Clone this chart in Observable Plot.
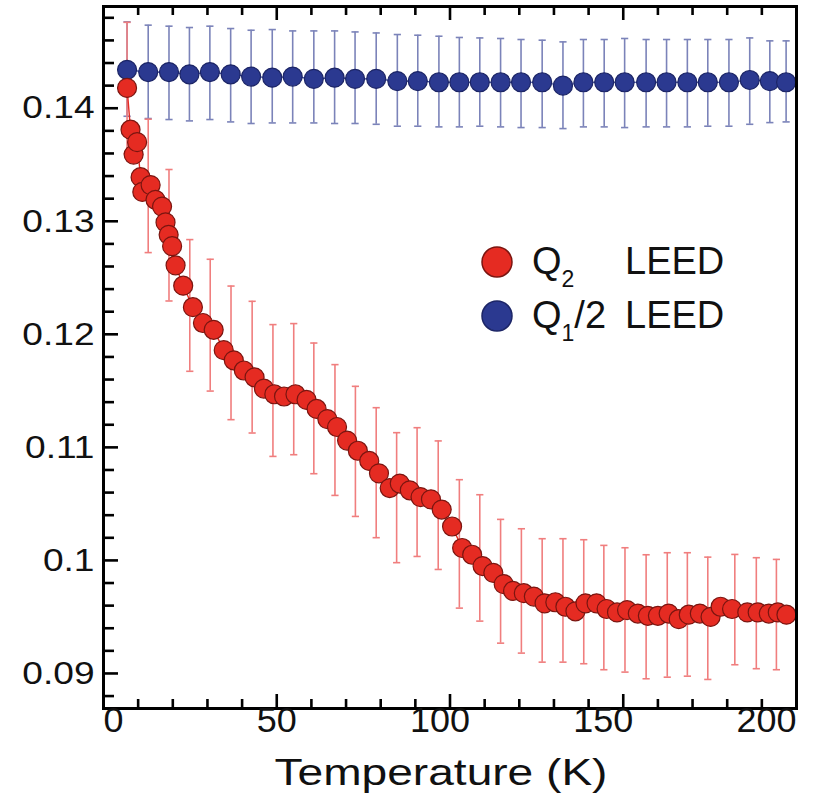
<!DOCTYPE html>
<html><head><meta charset="utf-8">
<script src="https://cdn.jsdelivr.net/npm/d3@7"></script>
<script src="https://cdn.jsdelivr.net/npm/@observablehq/plot@0.6"></script>
<style>
body{margin:0;background:#fff;}
#wrap{position:relative;width:840px;height:807px;}
#legend{position:absolute;left:0;top:0;pointer-events:none;}
</style></head><body><div id="wrap"></div>
<script>
// Q1/2 LEED (blue)
const blueT = [6.8,12.9,18.9,24.8,30.7,36.7,42.6,48.7,54.6,60.7,66.7,72.6,78.7,84.8,90.7,96.8,102.7,108.6,114.6,120.5,126.6,132.6,138.5,144.5,150.4,156.6,162.5,168.5,174.4,180.5,186.5,192.3,197.0];
const blueQ = [.1434,.1432,.1432,.1430,.1432,.1430,.1428,.1427,.1428,.1426,.1427,.1426,.1426,.1424,.1424,.1423,.1423,.1423,.1423,.1423,.1423,.1420,.1423,.1423,.1423,.1423,.1423,.1423,.1423,.1423,.1425,.1424,.1423];
const blueHi = [.14764,.14735,.14726,.14714,.14726,.14705,.14690,.14696,.14684,.14684,.14684,.14675,.14666,.14652,.14646,.14637,.14626,.14622,.14617,.14608,.14602,.14587,.14608,.14608,.14617,.14608,.14608,.14608,.14608,.14608,.14622,.14596,.14596];
const blueLo = [.13929,.13909,.13900,.13888,.13900,.13879,.13865,.13870,.13870,.13870,.13865,.13865,.13858,.13841,.13841,.13835,.13835,.13841,.13835,.13829,.13829,.13820,.13835,.13835,.13829,.13835,.13835,.13835,.13841,.13841,.13858,.13873,.13879];

// Q2 LEED (red)
const redT = [6.8,7.8,8.7,9.7,10.7,11.2,13.6,15.0,16.9,17.9,18.8,19.8,20.8,23.0,25.8,28.7,31.8,34.7,37.6,40.5,43.6,46.3,49.3,52.1,55.4,58.6,61.5,64.6,67.4,70.3,73.4,76.7,79.5,82.6,85.5,88.4,91.5,94.5,97.6,100.6,103.5,106.4,109.4,112.5,115.5,118.2,121.3,124.2,127.3,130.4,133.3,136.2,139.1,142.3,145.2,148.2,151.1,154.2,157.1,160.0,163.1,166.0,168.9,172.1,175.2,178.1,181.4,185.8,188.8,192.0,194.6,197.1];
const redQ = [.1418,.1381,.1359,.1370,.1339,.1326,.1332,.1319,.1313,.1299,.1288,.1278,.1261,.1243,.1224,.1210,.1204,.1186,.1177,.1168,.1162,.1152,.1147,.1145,.1147,.1142,.1134,.1125,.1118,.1106,.1097,.1088,.1077,.1064,.1068,.1062,.1056,.1054,.1045,.1030,.1011,.1005,.0995,.0989,.0979,.0973,.0971,.0968,.0962,.0963,.0959,.0955,.0962,.0962,.0957,.0954,.0956,.0953,.0951,.0951,.0953,.0948,.0952,.0953,.0950,.0959,.0957,.0954,.0954,.0953,.0954,.0952];
const redErrT = [6.8,12.9,18.9,24.9,30.8,36.8,42.9,48.9,54.9,60.7,66.8,72.7,78.7,84.6,90.5,96.6,102.7,108.6,114.6,120.6,126.6,132.6,138.6,144.4,150.5,156.6,162.7,168.5,174.4,182.2,188.4,194.2];
const redErrHi = [.1476,.13903,.13458,.12838,.12664,.12427,.12292,.12086,.12095,.11923,.11732,.11540,.11351,.11130,.11174,.11057,.10714,.10581,.10363,.10280,.10192,.10192,.10183,.10133,.10112,.10050,.10068,.10068,.10029,.10053,.10024,.10009];
const redErrLo = [.1360,.12723,.12295,.11673,.11498,.11245,.11127,.10920,.10935,.10767,.10575,.10389,.10201,.09980,.10035,.09920,.09578,.09463,.09268,.09180,.09100,.09100,.09086,.09033,.09012,.08953,.08967,.08976,.08947,.09077,.09042,.09033];

// axes
const xMajor = [0,50,100,150,200];
const xMinor = [0,10,20,30,40,60,70,80,90,110,120,130,140,160,170,180,190];
const yMajor = [0.09,0.10,0.11,0.12,0.13,0.14];
const yMajorLabels = ["0.09","0.1","0.11","0.12","0.13","0.14"];
const yMinor = [0.088,0.092,0.094,0.096,0.098,0.102,0.104,0.106,0.108,0.112,0.114,0.116,0.118,0.122,0.124,0.126,0.128,0.132,0.134,0.136,0.138,0.142,0.144,0.146,0.148];
const xLabel = "Temperature (K)";

const blue = blueT.map((t,i)=>({t, q: blueQ[i], lo: blueLo[i], hi: blueHi[i]}));
const red = redT.map((t,i)=>({t, q: redQ[i]}));
const redErr = redErrT.map((t,i)=>({t, lo: redErrLo[i], hi: redErrHi[i]}));

const W = 840, H = 807, mL = 103, mR = 44, mT = 6, mB = 99;
const iw = W - mL - mR, ih = H - mT - mB;

const cap = {draw(ctx, size){ const w = Math.sqrt(size/Math.PI); ctx.moveTo(-w,0); ctx.lineTo(w,0); }};

const RED = "#e52b22", REDS = "#7a1510", REDBAR = "#f07e7e";
const BLUE = "#2b3990", BLUES = "#1c2566", BLUEBAR = "#7b83b9";
const FONT = "'Liberation Sans', Arial, Helvetica, sans-serif";

const chart = Plot.plot({
  width: W, height: H,
  marginLeft: mL, marginRight: mR, marginTop: mT, marginBottom: mB,
  x: {domain: [0, 200]},
  y: {domain: [0.0869, 0.1490]},
  style: {fontFamily: FONT, fontSize: "32px", background: "#fff", color: "#111"},
  marks: [
    Plot.ruleX(blue, {x: "t", y1: "lo", y2: "hi", stroke: BLUEBAR, strokeWidth: 1.6}),
    Plot.dot(blue, {x: "t", y: "lo", symbol: cap, r: 3.6, stroke: BLUEBAR, fill: "none", strokeWidth: 1.6}),
    Plot.dot(blue, {x: "t", y: "hi", symbol: cap, r: 3.6, stroke: BLUEBAR, fill: "none", strokeWidth: 1.6}),
    Plot.ruleX(redErr, {x: "t", y1: "lo", y2: "hi", stroke: REDBAR, strokeWidth: 1.6}),
    Plot.dot(redErr, {x: "t", y: "lo", symbol: cap, r: 3.6, stroke: REDBAR, fill: "none", strokeWidth: 1.6}),
    Plot.dot(redErr, {x: "t", y: "hi", symbol: cap, r: 3.6, stroke: REDBAR, fill: "none", strokeWidth: 1.6}),
    Plot.line(blue, {x: "t", y: "q", stroke: BLUE, strokeWidth: 1.2}),
    Plot.dot(blue, {x: "t", y: "q", r: 9.5, fill: BLUE, stroke: BLUES, strokeWidth: 1.2}),
    Plot.line(red, {x: "t", y: "q", stroke: RED, strokeWidth: 1.4}),
    Plot.dot(red, {x: "t", y: "q", r: 9.5, fill: RED, stroke: REDS, strokeWidth: 1.2}),
    Plot.ruleX(xMajor, {x: d => d, insetTop: ih - 14, stroke: "#000", strokeWidth: 2.6}),
    Plot.ruleX(xMinor, {x: d => d, insetTop: ih - 9, stroke: "#000", strokeWidth: 2.6}),
    Plot.ruleX(xMajor, {x: d => d, insetBottom: ih - 14, stroke: "#000", strokeWidth: 2.6}),
    Plot.ruleX(xMinor, {x: d => d, insetBottom: ih - 9, stroke: "#000", strokeWidth: 2.6}),
    Plot.ruleY(yMajor, {y: d => d, insetRight: iw - 15, stroke: "#000", strokeWidth: 2.6}),
    Plot.ruleY(yMinor, {y: d => d, insetRight: iw - 11, stroke: "#000", strokeWidth: 2.6}),
    Plot.frame({stroke: "#000", strokeWidth: 3}),
    Plot.axisX({ticks: xMajor, tickSize: 0, tickPadding: -2, label: null, fontSize: 36, tickFormat: d => String(d)}),
    Plot.axisY({ticks: yMajor, tickSize: 0, tickPadding: 9, label: null, fontSize: 32, tickFormat: d => yMajorLabels[yMajor.indexOf(d)]}),
    Plot.text([xLabel], {text: d => d, frameAnchor: "bottom", dy: 76, dx: -9, fontSize: 36})
  ]
});

const wrap = document.getElementById("wrap");
wrap.appendChild(chart);

// widen the glyphs like the reference typeface
function stretch(sel, f) {
  chart.querySelectorAll(sel).forEach(t => {
    const len = t.getComputedTextLength();
    t.setAttribute("textLength", (len * f).toFixed(1));
    t.setAttribute("lengthAdjust", "spacingAndGlyphs");
  });
}
const k = 0.9423;
const xg = chart.querySelector('g[aria-label="x-axis tick label"]');
if (xg) {
  xg.setAttribute("transform", `translate(${(113 - k * mL).toFixed(2)},0) scale(${k},1) ` + (xg.getAttribute("transform") || ""));
}
stretch('g[aria-label="x-axis tick label"] text', 1 / k);
stretch('g[aria-label="y-axis tick label"] text', 1.16);
stretch('g[aria-label="text"] text', 1.28);

const ns = "http://www.w3.org/2000/svg";
const leg = document.createElementNS(ns, "svg");
leg.setAttribute("id", "legend");
leg.setAttribute("width", W); leg.setAttribute("height", H);
leg.setAttribute("font-family", FONT);
leg.innerHTML = `
  <circle cx="497" cy="262" r="15" fill="${RED}" stroke="${REDS}" stroke-width="1.5"/>
  <text x="532" y="274" font-size="38" fill="#111">Q<tspan font-size="23" dy="13">2</tspan></text>
  <text x="625" y="274" font-size="38" fill="#111">LEED</text>
  <circle cx="497" cy="316" r="15" fill="${BLUE}" stroke="${BLUES}" stroke-width="1.5"/>
  <text x="532" y="328" font-size="38" fill="#111">Q<tspan font-size="23" dy="13">1</tspan><tspan font-size="38" dy="-13">/2</tspan></text>
  <text x="625" y="328" font-size="38" fill="#111">LEED</text>`;
wrap.appendChild(leg);
</script>
</body></html>
